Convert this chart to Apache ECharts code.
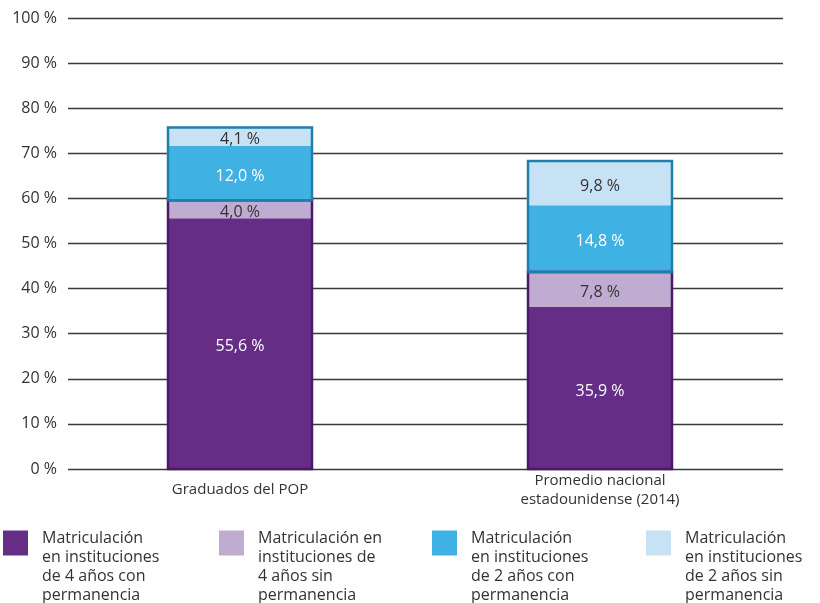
<!DOCTYPE html>
<html>
<head>
<meta charset="utf-8">
<script src="https://cdn.jsdelivr.net/npm/echarts@6/dist/echarts.min.js"></script>
<style>
  html, body { margin: 0; padding: 0; background: #fff; }
  #chart { width: 820px; height: 603px; }
</style>
</head>
<body>
<div id="chart"></div>
<script>
var categories = ["Graduados del POP", "Promedio nacional\nestadounidense (2014)"];
var yTicks = [0, 10, 20, 30, 40, 50, 60, 70, 80, 90, 100];

var fourYearWith = [55.6, 35.9];
var fourYearWithout = [4.0, 7.8];
var twoYearWith = [12.0, 14.8];
var twoYearWithout = [4.1, 9.8];

var seriesNames = [
  "Matriculación en instituciones de 4 años con permanencia",
  "Matriculación en instituciones de 4 años sin permanencia",
  "Matriculación en instituciones de 2 años con permanencia",
  "Matriculación en instituciones de 2 años sin permanencia"
];
var legendLines = [
  ["Matriculación", "en instituciones", "de 4 años con", "permanencia"],
  ["Matriculación en", "instituciones de", "4 años sin", "permanencia"],
  ["Matriculación", "en instituciones", "de 2 años con", "permanencia"],
  ["Matriculación", "en instituciones", "de 2 años sin", "permanencia"]
];
var colors = ["#652d86", "#c0acd1", "#3fb1e3", "#c6e2f4"];
var labelColors = ["#ffffff", "#333333", "#ffffff", "#333333"];

var chartDom = document.getElementById("chart");
var myChart = echarts.init(chartDom);
var option;

var FONT = "'Open Sans', 'Noto Sans', sans-serif";

// group outlines: purple group (4 años) and blue group (2 años)
var purpleGroup = categories.map(function (c, i) {
  return [i, 0, fourYearWith[i] + fourYearWithout[i]];
});
var blueGroup = categories.map(function (c, i) {
  var base = fourYearWith[i] + fourYearWithout[i];
  return [i, base, base + twoYearWith[i] + twoYearWithout[i]];
});

function outlineRenderer(stroke) {
  return function (params, api) {
    var x = api.value(0);
    var p0 = api.coord([x, api.value(1)]);
    var p1 = api.coord([x, api.value(2)]);
    var w = 144;
    return {
      type: "rect",
      shape: { x: p0[0] - w / 2, y: p1[1], width: w, height: p0[1] - p1[1] },
      style: { fill: "none", stroke: stroke, lineWidth: 2.5 },
      z2: 10,
    };
  };
}

var dataSets = [fourYearWith, fourYearWithout, twoYearWith, twoYearWithout];
var barSeries = dataSets.map(function (d, k) {
  return {
    name: seriesNames[k],
    type: "bar",
    stack: "total",
    xAxisIndex: 1,
    yAxisIndex: 1,
    barWidth: 144,
    itemStyle: { color: colors[k] },
    label: {
      show: true,
      position: "inside",
      offset: [0, 3],
      color: labelColors[k],
      fontFamily: FONT,
      fontSize: 16,
      formatter: function (p) {
        return p.value.toFixed(1).replace(".", ",") + " %";
      },
    },
    data: d,
  };
});

// legend text sits below the top of the square, so a spacer line pushes it down
var legendLefts = [3, 219, 432, 646];
var legends = seriesNames.map(function (n, k) {
  return {
    data: [n],
    left: legendLefts[k],
    top: 504,
    padding: 0,
    orient: "vertical",
    itemWidth: 25,
    itemHeight: 25,
    itemGap: 0,
    selectedMode: false,
    icon: "rect",
    formatter: function () {
      return "{s| }\n" + legendLines[k].map(function (l) {
        return "{t|" + l + "}";
      }).join("\n");
    },
    textStyle: {
      fontFamily: FONT,
      fontSize: 16,
      color: "#333",
      rich: {
        s: { lineHeight: 48, fontSize: 2 },
        t: {
          fontFamily: FONT,
          fontSize: 16,
          lineHeight: 19,
          color: "#333",
          padding: [0, 0, 0, 9],
        },
      },
    },
  };
});

option = {
  animation: false,
  legend: legends,
  grid: [
    { left: 68, right: 37, top: 18, bottom: 134 },
    { left: 60, right: 40, top: 18, bottom: 134 },
  ],
  xAxis: [
    { gridIndex: 0, type: "value", min: 0, max: 1, show: false },
    {
      gridIndex: 1,
      type: "category",
      data: categories,
      axisLine: { show: false },
      axisTick: { show: false },
      axisLabel: {
        margin: 21,
        verticalAlign: "middle",
        fontFamily: FONT,
        fontSize: 15,
        lineHeight: 19,
        color: "#333",
      },
    },
  ],
  yAxis: [
    {
      gridIndex: 0,
      type: "value",
      min: yTicks[0],
      max: yTicks[yTicks.length - 1],
      interval: 10,
      axisLine: { show: false },
      axisTick: { show: false },
      axisLabel: {
        margin: 11,
        fontFamily: FONT,
        fontSize: 16,
        color: "#333",
        formatter: "{value} %",
      },
      splitLine: { lineStyle: { color: "#3a3a3a", width: 1.3 } },
    },
    {
      gridIndex: 1,
      type: "value",
      min: 0,
      max: 100,
      interval: 10,
      show: false,
      splitLine: { show: false },
    },
  ],
  series: barSeries.concat([
    {
      type: "custom",
      xAxisIndex: 1,
      yAxisIndex: 1,
      renderItem: outlineRenderer("#4a1a68"),
      data: purpleGroup,
      z: 5,
      silent: true,
    },
    {
      type: "custom",
      xAxisIndex: 1,
      yAxisIndex: 1,
      renderItem: outlineRenderer("#1e80a8"),
      data: blueGroup,
      z: 5,
      silent: true,
    },
  ]),
};

option && myChart.setOption(option);
</script>
</body>
</html>
